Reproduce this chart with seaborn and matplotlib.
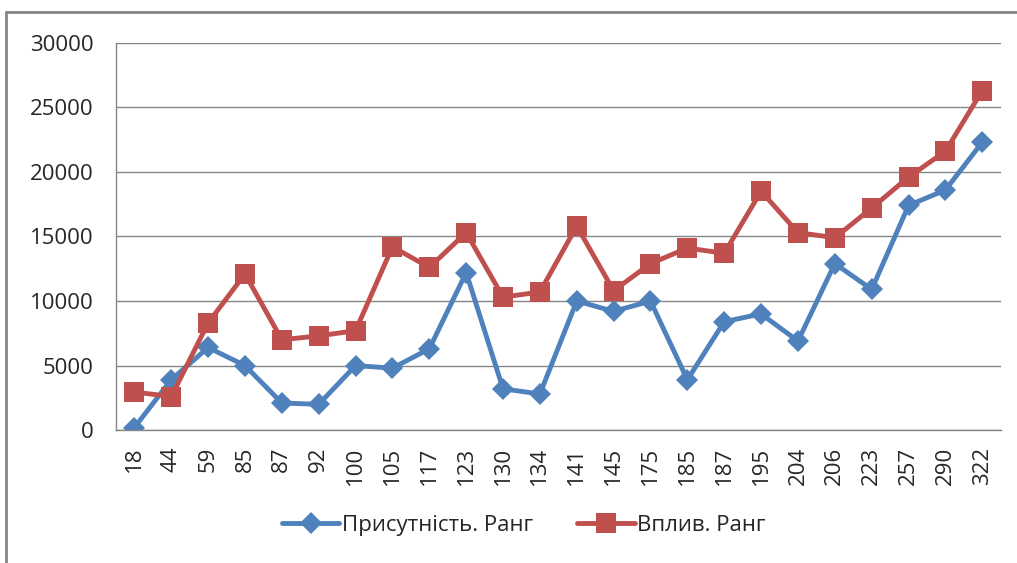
import numpy as np
import pandas as pd
import seaborn as sns
import matplotlib.pyplot as plt
from matplotlib.lines import Line2D

# Datos
categorias = ["18", "44", "59", "85", "87", "92", "100", "105", "117", "123", "130", "134",
              "141", "145", "175", "185", "187", "195", "204", "206", "223", "257", "290", "322"]
presencia = [200, 3900, 6400, 5000, 2100, 2000, 5000, 4800, 6300, 12200, 3200, 2800,
             10000, 9200, 10000, 3900, 8400, 9000, 6900, 12900, 10900, 17400, 18600, 22300]
impacto = [2950, 2600, 8300, 12100, 7000, 7300, 7700, 14200, 12600, 15300, 10300, 10700,
           15800, 10800, 12900, 14100, 13700, 18500, 15300, 14900, 17200, 19600, 21600, 26300]
serie1 = "Присутність. Ранг"
serie2 = "Вплив. Ранг"

n = len(categorias)
df = pd.DataFrame({
    "pos": list(range(n)) * 2,
    "valor": presencia + impacto,
    "serie": [serie1] * n + [serie2] * n,
})

sns.set_style("white")
plt.rcParams['font.family'] = ['Open Sans', 'DejaVu Sans']

fig = plt.figure(figsize=(10.17, 5.63), dpi=100)
ax = fig.add_axes([0.114, 0.236, 0.870, 0.688])

colores = {serie1: "#4F81BD", serie2: "#C0504D"}
marcadores = {serie1: "D", serie2: "s"}
tamanos = {serie1: 11, serie2: 14}
for s in [serie1, serie2]:
    d = df[df["serie"] == s]
    sns.lineplot(data=d, x="pos", y="valor", ax=ax, color=colores[s], lw=3.5,
                 marker=marcadores[s], markersize=tamanos[s], markeredgewidth=0,
                 label=s, legend=False)

ax.set_xlim(-0.5, n - 0.5)
ax.set_ylim(0, 30000)
ax.set_yticks(np.arange(0, 30001, 5000))
ax.set_xticks(range(n))
ax.set_xticklabels(categorias, rotation=90)
ax.set_xticks(np.arange(-0.5, n, 1), minor=True)
ax.tick_params(axis="x", which="major", length=0, pad=12, labelsize=16)
ax.tick_params(axis="x", which="minor", length=8, width=1, color="#868686")
ax.tick_params(axis="y", length=8, width=1, color="#868686", labelsize=16, pad=8)
ax.grid(axis="y", color="#868686", lw=1)
ax.set_xlabel("")
ax.set_ylabel("")
for sp in ["top", "right"]:
    ax.spines[sp].set_visible(False)
for sp in ["left", "bottom"]:
    ax.spines[sp].set_color("#868686")
    ax.spines[sp].set_linewidth(1)

handles = [Line2D([0], [0], color=colores[s], lw=3.5, marker=marcadores[s],
                  markersize=tamanos[s], markeredgewidth=0) for s in [serie1, serie2]]
fig.legend(handles, [serie1, serie2], loc="center", bbox_to_anchor=(0.515, 0.067),
           ncol=2, frameon=False, fontsize=16, handlelength=2.6, handletextpad=0.1,
           columnspacing=2.0)

# Marco del gráfico
fig.add_artist(Line2D([6 / 1017, 6 / 1017], [0, 1 - 12 / 563], color="#868686", lw=2,
                      transform=fig.transFigure))
fig.add_artist(Line2D([6 / 1017, 1], [1 - 12 / 563, 1 - 12 / 563], color="#868686", lw=2,
                      transform=fig.transFigure))

fig.savefig("out.png", dpi=100)
